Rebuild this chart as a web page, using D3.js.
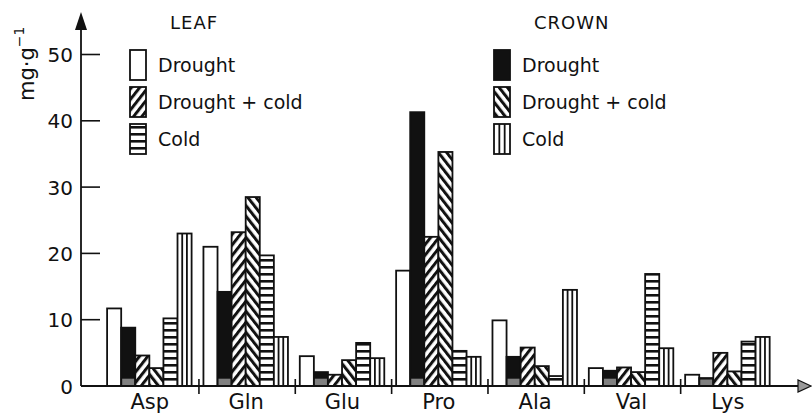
<!DOCTYPE html>
<html>
<head>
<meta charset="utf-8">
<script src="https://cdn.jsdelivr.net/npm/d3@7"></script>
<style>
  html, body { margin: 0; padding: 0; background: #fff; }
  svg { display: block; }
  text { font-family: "DejaVu Sans", sans-serif; fill: #111; }
</style>
</head>
<body>
<svg id="chart" width="812" height="415"></svg>
<script>
// ---- data ----
const categories = ["Asp", "Gln", "Glu", "Pro", "Ala", "Val", "Lys"];
const leafDrought      = [11.7, 21.0, 4.5, 17.4, 9.9, 2.7, 1.7];
const crownDrought     = [8.8, 14.2, 2.1, 41.3, 4.4, 2.3, 1.2];
const leafDroughtCold  = [4.6, 23.2, 1.7, 22.5, 5.8, 2.8, 5.0];
const crownDroughtCold = [2.7, 28.5, 3.9, 35.3, 3.0, 2.1, 2.2];
const leafCold         = [10.2, 19.7, 6.5, 5.3, 1.5, 16.9, 6.7];
const crownCold        = [23.0, 7.4, 4.2, 4.4, 14.5, 5.7, 7.4];
const yTicks = [0, 10, 20, 30, 40, 50];
const leafLegend = ["Drought", "Drought + cold", "Cold"];
const crownLegend = ["Drought", "Drought + cold", "Cold"];

const seriesKeys = ["leafDrought", "crownDrought", "leafDroughtCold", "crownDroughtCold", "leafCold", "crownCold"];
const seriesVals = { leafDrought, crownDrought, leafDroughtCold, crownDroughtCold, leafCold, crownCold };
const seriesFill = {
  leafDrought: "#fff",
  crownDrought: "#111",
  leafDroughtCold: "url(#diagUp)",
  crownDroughtCold: "url(#diagDown)",
  leafCold: "url(#horiz)",
  crownCold: "#fff"
};

const svg = d3.select("#chart");
const defs = svg.append("defs");

function stripePattern(id, angle) {
  const p = defs.append("pattern").attr("id", id)
    .attr("patternUnits", "userSpaceOnUse")
    .attr("width", 6.5).attr("height", 10)
    .attr("patternTransform", `rotate(${angle})`);
  p.append("rect").attr("width", 6.5).attr("height", 10).attr("fill", "#fff");
  p.append("rect").attr("width", 3).attr("height", 10).attr("fill", "#111");
}
stripePattern("diagUp", 38);
stripePattern("diagDown", -38);
const hp = defs.append("pattern").attr("id", "horiz")
  .attr("patternUnits", "userSpaceOnUse").attr("width", 10).attr("height", 7);
hp.append("rect").attr("width", 10).attr("height", 7).attr("fill", "#fff");
hp.append("rect").attr("width", 10).attr("height", 2.6).attr("fill", "#111");

// ---- scales ----
const y = d3.scaleLinear().domain([0, 50]).range([386, 54.5]);
const x0 = d3.scaleBand().domain(categories).range([102.6, 777]);
const x1 = d3.scaleBand().domain(seriesKeys).range([4.5, 89]);
const axisX = 81;

// ---- bars ----
const g = svg.append("g");
const groups = g.selectAll("g.grp").data(categories).join("g")
  .attr("transform", d => `translate(${x0(d)},0)`);

groups.each(function(cat, ci) {
  const grp = d3.select(this);
  seriesKeys.forEach(k => {
    const v = seriesVals[k][ci];
    const bx = x1(k), bw = x1.bandwidth();
    grp.append("rect")
      .attr("x", bx).attr("y", y(v))
      .attr("width", bw).attr("height", y(0) - y(v))
      .attr("fill", seriesFill[k])
      .attr("stroke", "#111").attr("stroke-width", 1.8);
    if (k === "crownDrought") {
      const gh = Math.min(y(0) - y(v) - 1.5, y(0) - y(1.1));
      grp.append("rect")
        .attr("x", bx + 1).attr("y", y(0) - gh)
        .attr("width", bw - 2).attr("height", gh)
        .attr("fill", "#808080");
    }
    if (k === "crownCold") {
      [1 / 3, 2 / 3].forEach(f => {
        grp.append("line")
          .attr("x1", bx + bw * f).attr("x2", bx + bw * f)
          .attr("y1", y(v)).attr("y2", y(0))
          .attr("stroke", "#111").attr("stroke-width", 1.8);
      });
    }
  });
});

// ---- axes ----
svg.append("line").attr("x1", axisX).attr("x2", axisX)
  .attr("y1", y(0)).attr("y2", 22).attr("stroke", "#111").attr("stroke-width", 1.8);
svg.append("path").attr("d", `M${axisX},12 L${axisX - 6},30 L${axisX + 6},30 Z`)
  .attr("fill", "#111");
svg.selectAll("line.yt").data(yTicks.filter(t => t > 0)).join("line")
  .attr("x1", axisX).attr("x2", axisX + 19)
  .attr("y1", d => y(d)).attr("y2", d => y(d))
  .attr("stroke", "#111").attr("stroke-width", 1.6);
svg.selectAll("text.yl").data(yTicks).join("text")
  .attr("x", axisX - 8).attr("y", d => y(d) + 7.5)
  .attr("text-anchor", "end").attr("font-size", 20)
  .text(d => d);

svg.append("line").attr("x1", axisX).attr("x2", 800)
  .attr("y1", y(0)).attr("y2", y(0)).attr("stroke", "#111").attr("stroke-width", 1.8);
svg.append("path").attr("d", `M811,${y(0)} L798,${y(0) - 6} L798,${y(0) + 6} Z`)
  .attr("fill", "#999").attr("stroke", "#111").attr("stroke-width", 1.2);
svg.selectAll("line.xt").data(categories.slice(1)).join("line")
  .attr("x1", d => x0(d)).attr("x2", d => x0(d))
  .attr("y1", y(0) - 7).attr("y2", y(0) + 8)
  .attr("stroke", "#111").attr("stroke-width", 1.6);
svg.selectAll("text.xl").data(categories).join("text")
  .attr("x", d => x0(d) + x0.bandwidth() / 2 - 1).attr("y", 409)
  .attr("text-anchor", "middle").attr("font-size", 21)
  .text(d => d);

const yt = svg.append("text")
  .attr("transform", "translate(34,101) rotate(-90)")
  .attr("text-anchor", "start").attr("font-size", 21);
yt.append("tspan").text("mg·g");
yt.append("tspan").attr("font-size", 14).attr("dy", -10).text("−1");

// ---- legends ----
function legend(x, title, labels, fills, extraVert) {
  svg.append("text").attr("x", x + 40).attr("y", 29)
    .attr("font-size", 18).attr("letter-spacing", 1).text(title);
  const tops = [50, 87, 124];
  labels.forEach((lab, i) => {
    svg.append("rect").attr("x", x).attr("y", tops[i])
      .attr("width", 16).attr("height", 30)
      .attr("fill", fills[i]).attr("stroke", "#111").attr("stroke-width", 1.8);
    if (extraVert && i === 2) {
      [16 / 3, 32 / 3].forEach(o => {
        svg.append("line").attr("x1", x + o).attr("x2", x + o)
          .attr("y1", tops[i]).attr("y2", tops[i] + 30)
          .attr("stroke", "#111").attr("stroke-width", 1.8);
      });
    }
    svg.append("text").attr("x", x + 28).attr("y", tops[i] + 22)
      .attr("font-size", 19).text(lab);
  });
}
legend(130, "LEAF", leafLegend, ["#fff", "url(#diagUp)", "url(#horiz)"], false);
legend(494, "CROWN", crownLegend, ["#111", "url(#diagDown)", "#fff"], true);
</script>
</body>
</html>
